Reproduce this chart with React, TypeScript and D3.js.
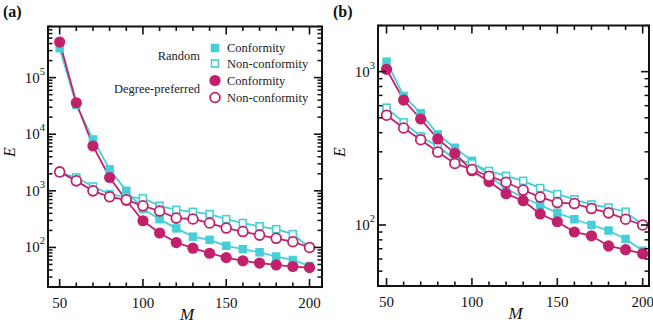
import React from 'react';
import * as d3 from 'd3';

const M = [50, 60, 70, 80, 90, 100, 110, 120, 130, 140, 150, 160, 170, 180, 190, 200];

// Panel (a)
const randConfA = [330000, 33000, 8100, 2400, 1000, 480, 316, 217, 155, 136, 107, 93, 82, 69, 60, 47];
const randNonA = [2100, 1720, 1195, 874, 780, 740, 544, 460, 425, 388, 316, 270, 236, 210, 172, 100];
const degConfA = [425000, 36000, 6200, 1720, 680, 296, 180, 122, 97, 79, 66, 58, 53, 49, 46, 44];
const degNonA = [2160, 1500, 1000, 784, 694, 544, 440, 330, 318, 270, 220, 191, 165, 145, 126, 100];

// Panel (b)
const randConfB = [1162, 694, 536, 390, 319, 262, 209, 172, 151, 135, 120, 109, 100, 92, 81, 68];
const randNonB = [582, 467, 378, 325, 269, 252, 225, 209, 194, 174, 159, 147, 136, 130, 122, 100];
const degConfB = [1036, 653, 491, 364, 293, 226, 192, 160, 144, 118, 105, 90, 85, 73, 69, 65];
const degNonB = [520, 429, 360, 299, 252, 230, 208, 190, 169, 152, 140, 138, 128, 120, 109, 100];

const xMajorTicks = [50, 100, 150, 200];
const xMinorTicks = [50, 60, 70, 80, 90, 100, 110, 120, 130, 140, 150, 160, 170, 180, 190, 200];
const yMajorA = [100, 1000, 10000, 100000];
const yMajorB = [100, 1000];

const legendGroups = ['Random', 'Degree-preferred'];
const legendLabels = ['Conformity', 'Non-conformity', 'Conformity', 'Non-conformity'];

const CYAN = '#46cfd8';
const MAGENTA = '#c2206a';
const SERIF = 'Liberation Serif, Tinos, Times New Roman, DejaVu Serif, serif';

type Series = { values: number[]; color: string; shape: 'square' | 'circle'; filled: boolean };

const seriesA: Series[] = [
  { values: randConfA, color: CYAN, shape: 'square', filled: true },
  { values: randNonA, color: CYAN, shape: 'square', filled: false },
  { values: degConfA, color: MAGENTA, shape: 'circle', filled: true },
  { values: degNonA, color: MAGENTA, shape: 'circle', filled: false },
];
const seriesB: Series[] = [
  { values: randConfB, color: CYAN, shape: 'square', filled: true },
  { values: randNonB, color: CYAN, shape: 'square', filled: false },
  { values: degConfB, color: MAGENTA, shape: 'circle', filled: true },
  { values: degNonB, color: MAGENTA, shape: 'circle', filled: false },
];

function Marker({ x, y, s }: { x: number; y: number; s: Series }) {
  if (s.shape === 'square') {
    if (s.filled) {
      const a = 8.5;
      return <rect x={x - a / 2} y={y - a / 2} width={a} height={a} fill={s.color} />;
    }
    const a = 7;
    return <rect x={x - a / 2} y={y - a / 2} width={a} height={a} fill="white" stroke={s.color} strokeWidth={1.6} />;
  }
  if (s.filled) return <circle cx={x} cy={y} r={5.6} fill={s.color} />;
  return <circle cx={x} cy={y} r={4.9} fill="white" stroke={s.color} strokeWidth={1.8} />;
}

function minorLogTicks(domain: [number, number]) {
  const out: number[] = [];
  for (let d = -1; d <= 7; d++) {
    for (let k = 2; k <= 9; k++) {
      const v = k * Math.pow(10, d);
      if (v >= domain[0] && v <= domain[1]) out.push(v);
    }
  }
  return out;
}

const txt = { fontFamily: SERIF };

function Panel(props: {
  left: number; right: number; top: number; bottom: number;
  xDomain: [number, number]; yDomain: [number, number];
  series: Series[]; yMajors: number[]; tag: string; tagX: number; eX: number;
}) {
  const { left, right, top, bottom, xDomain, yDomain, series, yMajors, tag, tagX, eX } = props;
  const x = d3.scaleLinear().domain(xDomain).range([left, right]);
  const y = d3.scaleLog().domain(yDomain).range([bottom, top]);
  const line = d3.line<number>().x((_, i) => x(M[i])).y((v) => y(v));
  const yMinor = minorLogTicks(yDomain);
  const tickCol = '#111';
  return (
    <g>
      {series.map((s, i) => (
        <path key={'l' + i} d={line(s.values) || ''} fill="none" stroke={s.color} strokeWidth={1.8} />
      ))}
      {series.map((s, i) => (
        <g key={'m' + i}>
          {s.values.map((v, j) => (
            <Marker key={j} x={x(M[j])} y={y(v)} s={s} />
          ))}
        </g>
      ))}
      {xMinorTicks.map((t) => {
        const major = xMajorTicks.includes(t);
        const len = major ? 8 : 4.5;
        return (
          <g key={'xt' + t} stroke={tickCol} strokeWidth={1.6}>
            <line x1={x(t)} x2={x(t)} y1={bottom} y2={bottom - len} />
            <line x1={x(t)} x2={x(t)} y1={top} y2={top + len} />
          </g>
        );
      })}
      {yMajors.map((t) => (
        <g key={'yM' + t} stroke={tickCol} strokeWidth={1.6}>
          <line x1={left} x2={left + 8} y1={y(t)} y2={y(t)} />
          <line x1={right} x2={right - 8} y1={y(t)} y2={y(t)} />
        </g>
      ))}
      {yMinor.map((t) => (
        <g key={'ym' + t} stroke={tickCol} strokeWidth={1.5}>
          <line x1={left} x2={left + 4.5} y1={y(t)} y2={y(t)} />
          <line x1={right} x2={right - 4.5} y1={y(t)} y2={y(t)} />
        </g>
      ))}
      <rect x={left} y={top} width={right - left} height={bottom - top} fill="none" stroke="#111" strokeWidth={2} />
      {xMajorTicks.map((t) => (
        <text key={'xl' + t} x={x(t)} y={bottom + 21} textAnchor="middle" style={txt} fontSize={15} fill="#111">
          {t}
        </text>
      ))}
      {yMajors.map((t) => (
        <text key={'yl' + t} x={left - 3} y={y(t) + 5} textAnchor="end" style={txt} fontSize={15} fill="#111">
          10
          <tspan dy={-8} fontSize={10.5}>{Math.round(Math.log10(t))}</tspan>
        </text>
      ))}
      <text x={(left + right) / 2 + 2} y={bottom + 33} textAnchor="middle" style={txt} fontStyle="italic" fontSize={17} fill="#111">
        M
      </text>
      <text transform={`translate(${eX},${152}) rotate(-90)`} textAnchor="middle" style={txt} fontStyle="italic" fontSize={16} fill="#111">
        E
      </text>
      <text x={tagX} y={17} style={txt} fontWeight="bold" fontSize={16} fill="#111">
        {tag}
      </text>
    </g>
  );
}

function Legend() {
  const mx = 215;
  const tx = 227;
  const rows = [48, 63.5, 80.5, 97.5];
  return (
    <g style={txt} fontSize={12.5} fill="#222">
      <text x={200} y={(rows[0] + rows[1]) / 2 + 4} textAnchor="end">{legendGroups[0]}</text>
      <text x={200} y={(rows[2] + rows[3]) / 2 + 4} textAnchor="end">{legendGroups[1]}</text>
      {seriesA.map((s, i) => (
        <g key={i}>
          <Marker x={mx} y={rows[i]} s={s} />
          <text x={tx} y={rows[i] + 4}>{legendLabels[i]}</text>
        </g>
      ))}
    </g>
  );
}

export default function App() {
  return (
    <svg width={653} height={326} style={{ position: 'absolute', left: 0, top: 0, background: 'white' }}>
      <rect width={653} height={326} fill="white" />
      <Panel left={48} right={322} top={26.5} bottom={287} xDomain={[43, 207.5]} yDomain={[20, 800000]}
        series={seriesA} yMajors={yMajorA} tag="(a)" tagX={3} eX={15} />
      <Legend />
      <Panel left={378} right={649} top={25.5} bottom={286} xDomain={[45, 203.7]} yDomain={[40, 2000]}
        series={seriesB} yMajors={yMajorB} tag="(b)" tagX={333} eX={345} />
    </svg>
  );
}
